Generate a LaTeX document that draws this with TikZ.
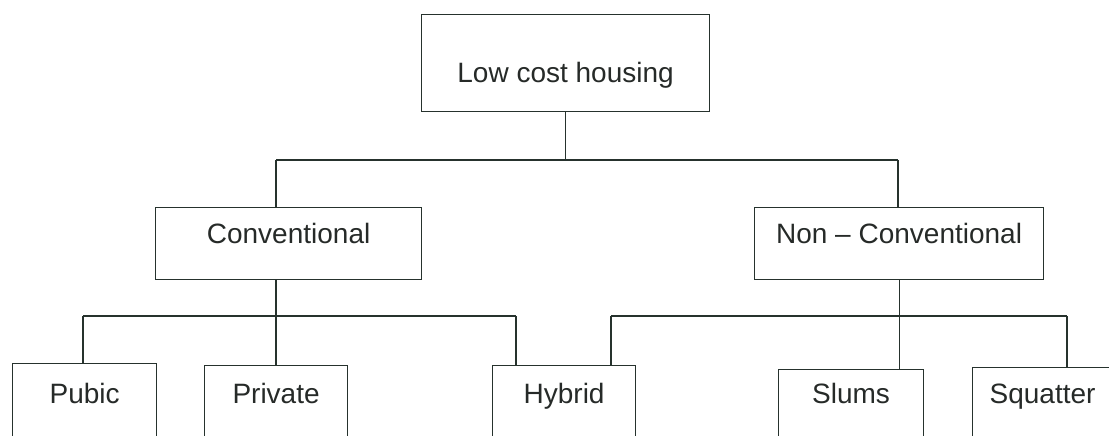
\documentclass[tikz,border=0pt]{standalone}
\usepackage{fontspec}
\setmainfont{Liberation Sans}
\usetikzlibrary{positioning}
\definecolor{inkline}{RGB}{38,50,45}
\definecolor{inktext}{RGB}{38,42,40}
\tikzset{
	box/.style = {draw=inkline, line width=1.2pt, anchor=north west, inner xsep=0pt, inner ysep=0pt, text=inktext, font=\fontsize{28}{33}\selectfont},
	wire/.style = {draw=inkline, line width=1.2pt}
}

\begin{document}
\begin{tikzpicture}[x=1pt, y=-1pt]
		\clip (0,0) rectangle (1109,436);
		\useasboundingbox (0,0) rectangle (1109,436);
		
		\node[box, minimum width=288pt, text height=68pt, text depth=29pt] (lch) at (421,14) {Low cost housing};
		\node[box, minimum width=266pt, text height=36pt, text depth=36pt] (conv) at (155,207) {Conventional};
		\node[box, minimum width=289pt, text height=36pt, text depth=36pt] (nconv) at (754,207) {Non -- Conventional};
		\node[box, minimum width=144pt, text height=40pt, text depth=80pt] (pubic) at (12,363) {Pubic};
		\node[box, minimum width=143pt, text height=38pt, text depth=80pt] (private) at (204,365) {Private};
		\node[box, minimum width=143pt, text height=38pt, text depth=80pt] (hybrid) at (492,365) {Hybrid};
		\node[box, minimum width=145pt, text height=34pt, text depth=80pt] (slums) at (778,369) {Slums};
		\node[box, minimum width=140pt, text height=36pt, text depth=80pt] (squat) at (972,367) {Squatter};
		
		% Bus lines
		\coordinate (busL) at (276,160);
		\coordinate (busR) at (898,160);
		\coordinate (cL) at (83,316);
		\coordinate (cR) at (516,316);
		\coordinate (nL) at (611,316);
		\coordinate (nR) at (1067,316);
		
		\draw[wire] (lch.south) -- (lch.south |- busL);
		\draw[wire] (busL) -- (busR);
		\draw[wire] (busL) -- (busL |- conv.north);
		\draw[wire] (busR) -- (busR |- nconv.north);
		
		\draw[wire] (busL |- conv.south) -- (busL |- cL);
		\draw[wire] (cL) -- (cR);
		\draw[wire] (cL) -- (cL |- pubic.north);
		\draw[wire] (busL |- cL) -- (busL |- private.north);
		\draw[wire] (cR) -- (cR |- hybrid.north);
		
		\draw[wire] (nconv.south) -- (nconv.south |- nL);
		\draw[wire] (nL) -- (nR);
		\draw[wire] (nL) -- (nL |- hybrid.north);
		\draw[wire] (nconv.south |- nL) -- (nconv.south |- slums.north);
		\draw[wire] (nR) -- (nR |- squat.north);
\end{tikzpicture}
\end{document}
